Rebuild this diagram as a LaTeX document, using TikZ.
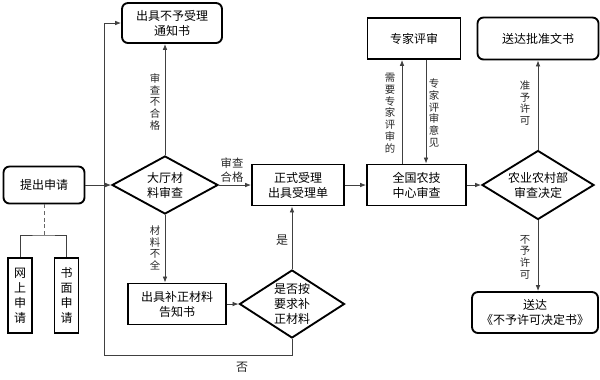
\documentclass[tikz,border=0pt]{standalone}
\usepackage{fontspec}
\newfontfamily\cjk{Noto Sans CJK SC}
\usetikzlibrary{shapes.geometric,arrows.meta,calc}
\begin{document}
\begin{tikzpicture}[x=0.75pt,y=-0.75pt,
  every node/.style={font=\cjk\fontsize{9}{11.25}\selectfont, align=center, inner sep=0pt},
  box/.style={draw, line width=1.4pt, minimum height=30.75pt},
  rbox/.style={box, rounded corners=4.5pt},
  dia/.style={draw, diamond, line width=1.4pt},
  arr/.style={draw=black!75, line width=0.6pt, -{Latex[length=4.5pt,width=3.5pt]}},
  vlbl/.style={font=\cjk\fontsize{7.8}{8.8}\selectfont, text=black!85},
  lbl/.style={text=black!85}]

\useasboundingbox (0,0) rectangle (600,379);

%--- APPLICATION ---
\node[rbox, minimum width=60.75pt, minimum height=27.75pt] (apply) at (44,185) {提出申请};
\node[box, minimum width=18pt, minimum height=56.25pt] (online) at (20,295.5) {网\\上\\申\\请};
\node[box, minimum width=18pt, minimum height=56.25pt] (paper) at (66.5,295.5) {书\\面\\申\\请};
\coordinate (fork) at (44,235);
\draw[densely dashed, black!60] (apply.south) -- (fork);
\draw[black!75, line width=0.6pt] (online.north) |- (fork) -| (paper.north);

%--- HALL CHECK ---
\node[dia, aspect=1.8, minimum width=79.5pt, minimum height=43.5pt] (hall) at (165,185) {大厅材\\料审查};
\draw[arr] (apply.east) -- (hall.west);

\node[rbox, minimum width=75pt, minimum height=30pt] (notice) at (172,23) {出具不予受理\\通知书};
\draw[arr] (hall.north) -- (hall.north |- notice.south);
\node[vlbl] (lfail) at (155,102) {审\\查\\不\\合\\格};

\node[box, minimum width=69pt] (accept) at (298,185) {正式受理\\出具受理单};
\draw[arr] (hall.east) -- (accept.west);
\node[lbl, font=\cjk\fontsize{8.5}{10.5}\selectfont] (lpass) at (232,170) {审查\\合格};

\node[box, minimum width=73.5pt] (supp) at (177,304) {出具补正材料\\告知书};
\draw[arr] (hall.south) -- (hall.south |- supp.north);
\node[vlbl] (lmiss) at (155,248) {材\\料\\不\\全};

%--- SUPPLEMENT LOOP ---
\node[dia, aspect=1.55, minimum width=78.75pt, minimum height=51pt] (check) at (292,304) {是否按\\要求补\\正材料};
\draw[arr] (supp.east) -- (check.west);
\draw[arr] (check.north) -- (check.north |- accept.south);
\node[lbl] (lyes) at (282,240) {是};
\coordinate (loop) at (104,355);
\draw[arr] (check.south) |- (loop) |- (notice.west);
\node[lbl] (lno) at (242,367) {否};

%--- CENTRE AND EXPERTS ---
\node[box, minimum width=74.25pt] (centre) at (416.5,185) {全国农技\\中心审查};
\draw[arr] (accept.east) -- (centre.west);
\node[box, minimum width=69.75pt] (expert) at (414,38.5) {专家评审};
\draw[arr] ($(centre.north)+(-14.5,0)$) -- ($(expert.south)+(-12,0)$);
\draw[arr] ($(expert.south)+(12,0)$) -- ($(centre.north)+(9.5,0)$);
\node[vlbl] (lneed) at (390,113) {需\\要\\专\\家\\评\\审\\的};
\node[vlbl] (lview) at (434,113) {专\\家\\评\\审\\意\\见};

%--- MINISTRY DECISION ---
\node[dia, aspect=1.6, minimum width=84pt, minimum height=51.75pt] (ministry) at (538,185) {农业农村部\\审查决定};
\draw[arr] (centre.east) -- (ministry.west);
\node[rbox, minimum width=90.75pt, minimum height=31.5pt] (approve) at (538,38.5) {送达批准文书};
\draw[arr] (ministry.north) -- (approve.south);
\node[vlbl] (lok) at (525,103) {准\\予\\许\\可};
\node[rbox, minimum width=94.5pt] (reject) at (535,312.5) {送达\\《不予许可决定书》};
\draw[arr] (ministry.south) -- (ministry.south |- reject.north);
\node[vlbl] (lref) at (525,257) {不\\予\\许\\可};

\end{tikzpicture}
\end{document}
